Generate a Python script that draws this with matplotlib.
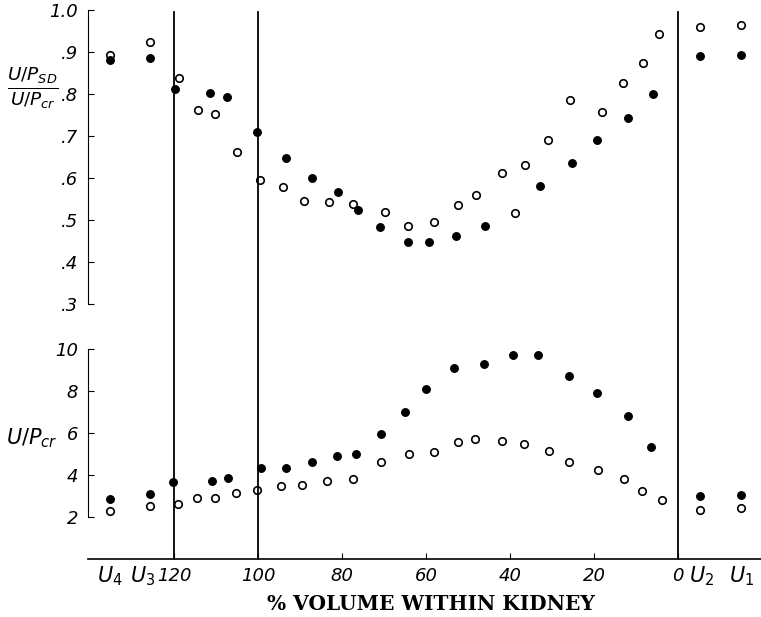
import matplotlib
matplotlib.use("Agg")
import matplotlib.pyplot as plt

# upper panel: (U/P_SD) / (U/P_cr), x = % volume within kidney (U4, U3 left, U2, U1 right)
ratio_open_x = [135.2, 125.7, 118.8, 114.4, 110.2, 104.9, 99.5, 94.0, 89.0, 83.2,
                77.5, 69.8, 64.4, 58.2, 52.3, 48.1, 42.0, 38.8, 36.5, 30.9, 25.7,
                18.2, 13.2, 8.4, 4.5, -5.2, -15.0]
ratio_open_y = [0.894, 0.923, 0.839, 0.761, 0.752, 0.662, 0.596, 0.578, 0.545, 0.543,
                0.537, 0.518, 0.486, 0.495, 0.536, 0.560, 0.611, 0.516, 0.632, 0.690, 0.786,
                0.758, 0.827, 0.873, 0.943, 0.960, 0.965]
ratio_fill_x = [135.2, 125.7, 119.8, 111.4, 107.5, 100.3, 93.3, 87.1, 81.0, 76.1,
                71.0, 64.2, 59.3, 52.8, 46.0, 32.8, 25.3, 19.3, 11.9, 6.0, -5.2, -15.0]
ratio_fill_y = [0.880, 0.885, 0.813, 0.802, 0.794, 0.710, 0.647, 0.601, 0.566, 0.524,
                0.483, 0.448, 0.448, 0.461, 0.486, 0.581, 0.636, 0.690, 0.743, 0.801, 0.890, 0.894]

# lower panel: U/P_cr
upcr_open_x = [135.2, 125.7, 119.1, 114.5, 110.2, 105.2, 100.2, 94.6, 89.5, 83.5, 77.5,
               70.7, 64.0, 58.1, 52.5, 48.3, 41.9, 36.7, 30.8, 26.0, 19.0, 12.8, 8.6, 3.9,
               -5.2, -15.0]
upcr_open_y = [2.30, 2.54, 2.63, 2.92, 2.92, 3.13, 3.30, 3.46, 3.51, 3.70, 3.82,
               4.60, 4.98, 5.11, 5.57, 5.70, 5.60, 5.49, 5.14, 4.60, 4.22, 3.81, 3.22, 2.83,
               2.32, 2.41]
upcr_fill_x = [135.2, 125.7, 120.2, 110.9, 107.1, 99.2, 93.4, 87.1, 81.1, 76.6, 70.7,
               65.1, 59.9, 53.4, 46.3, 39.4, 33.3, 26.0, 19.2, 11.9, 6.5, -5.2, -15.0]
upcr_fill_y = [2.84, 3.08, 3.65, 3.70, 3.86, 4.35, 4.32, 4.60, 4.92, 5.01, 5.97,
               6.98, 8.10, 9.11, 9.30, 9.73, 9.70, 8.71, 7.92, 6.80, 5.33, 3.00, 3.03]

num_ticks = [120, 100, 80, 60, 40, 20, 0]
u_ticks = [135.2, 127.5, -5.5, -15.2]
u_labels = [r'$U_4$', r'$U_3$', r'$U_2$', r'$U_1$']
boundaries = [120, 100, 0]

W, H = 761, 617
fig = plt.figure(figsize=(W / 100, H / 100), dpi=100)
left = 88 / W
ax1 = fig.add_axes([left, 1 - 330 / H, 1 - left, 330 / H])
ax2 = fig.add_axes([left, 1 - 559 / H, 1 - left, 229 / H])

xlim = ((678 - 88) / 4.2, (678 - 761) / 4.2)
mk = dict(linestyle='none', marker='o', markersize=5.4)
for ax in (ax1, ax2):
    ax.set_xlim(*xlim)
    ax.patch.set_alpha(0)
    ax.spines['top'].set_visible(False)
    ax.spines['right'].set_visible(False)

# upper panel
ax1.set_ylim(0.9 - 278 / 420, 0.9 + 52 / 420)
ax1.plot(ratio_open_x, ratio_open_y, mfc='white', mec='black', mew=1.2, **mk)
ax1.plot(ratio_fill_x, ratio_fill_y, mfc='black', mec='black', **mk)
for b in boundaries:
    ax1.axvline(b, ymin=0, ymax=0.965, color='black', lw=1.3)
ax1.spines['bottom'].set_visible(False)
ax1.spines['left'].set_bounds(0.3, 1.0)
ax1.set_yticks([0.3, 0.4, 0.5, 0.6, 0.7, 0.8, 0.9, 1.0])
ax1.set_yticklabels(['.3', '.4', '.5', '.6', '.7', '.8', '.9', '1.0'],
                    fontstyle='italic', fontsize=13)
ax1.tick_params(axis='y', direction='in', length=4, pad=7)
ax1.set_xticks([])

# lower panel
ax2.set_ylim(0, 229 / 21)
ax2.plot(upcr_open_x, upcr_open_y, mfc='white', mec='black', mew=1.2, **mk)
ax2.plot(upcr_fill_x, upcr_fill_y, mfc='black', mec='black', **mk)
for b in boundaries:
    ax2.axvline(b, color='black', lw=1.3)
ax2.spines['left'].set_bounds(2, 10)
ax2.set_yticks([2, 4, 6, 8, 10])
ax2.set_yticklabels(['2', '4', '6', '8', '10'], fontstyle='italic', fontsize=13)
ax2.tick_params(axis='y', direction='in', length=4, pad=7)
ax2.set_xticks(num_ticks)
ax2.set_xticklabels([str(t) for t in num_ticks], fontstyle='italic', fontsize=13)
ax2.set_xticks(u_ticks, minor=True)
ax2.set_xticklabels(u_labels, minor=True, fontsize=15)
ax2.tick_params(axis='x', which='major', direction='in', length=4, pad=6)
ax2.tick_params(axis='x', which='minor', length=0, pad=4)
ax2.spines['bottom'].set_linewidth(1.2)

fig.text(431 / W, 1 - 604 / H, '% VOLUME WITHIN KIDNEY', ha='center', va='center',
         family='DejaVu Serif', fontweight='bold', fontsize=14.5)
fig.text(33 / W, 1 - 88 / H, r'$\frac{U/P_{SD}}{U/P_{cr}}$', ha='center', va='center',
         fontsize=19)
fig.text(32 / W, 1 - 438 / H, r'$U/P_{cr}$', ha='center', va='center', fontsize=15)

fig.savefig('out.png', dpi=100)
